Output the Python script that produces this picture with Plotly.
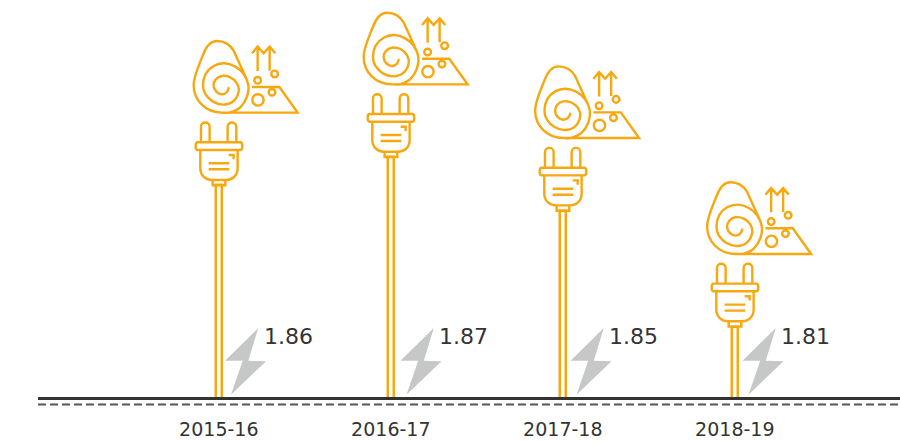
import plotly.graph_objects as go

years = ["2015-16", "2016-17", "2017-18", "2018-19"]
value_labels = ["1.86", "1.87", "1.85", "1.81"]
values = [1.86, 1.87, 1.851, 1.81]

PLOT_H = 397.5
BASE = 1.7851
TOP = BASE + PLOT_H / 2830
ORANGE = "#f7a70f"
GREY = "#c6c8c7"
DARK = "#333333"
FONT = "DejaVu Sans"
xs = list(range(len(years)))
nudge = [0, 3.5, 1.5, 1.5]
roll_nudge = [0, -2, -2.5, -2.5]


def P(p):
    return f"{(p[0] - 115.5) / 3:.2f},{(466 - p[1]) / 3:.2f}"


def path(cmds):
    out = []
    for c, pts in cmds:
        if c == "C":
            out.append("C " + " ".join(P(p) for p in pts))
        else:
            for p in pts:
                out.append(c + " " + P(p))
    return " ".join(out)


def smooth(pts):
    cmds = [("M", [pts[0]])]
    for i in range(len(pts) - 1):
        p0 = pts[max(i - 1, 0)]
        p1 = pts[i]
        p2 = pts[i + 1]
        p3 = pts[min(i + 2, len(pts) - 1)]
        c1 = (p1[0] + (p2[0] - p0[0]) / 6, p1[1] + (p2[1] - p0[1]) / 6)
        c2 = (p2[0] - (p3[0] - p1[0]) / 6, p2[1] - (p3[1] - p1[1]) / 6)
        cmds.append(("C", [c1, c2, p2]))
    return path(cmds)


def circle(cx, cy, r):
    k = r * 0.5523
    return path([
        ("M", [(cx + r, cy)]),
        ("C", [(cx + r, cy + k), (cx + k, cy + r), (cx, cy + r)]),
        ("C", [(cx - k, cy + r), (cx - r, cy + k), (cx - r, cy)]),
        ("C", [(cx - r, cy - k), (cx - k, cy - r), (cx, cy - r)]),
        ("C", [(cx + k, cy - r), (cx + r, cy - k), (cx + r, cy)]),
    ])


PLUG = path([
    ("M", [(62, 337)]), ("L", [(62, 291)]), ("C", [(62, 273), (88, 273), (88, 291)]), ("L", [(88, 337)]),
    ("M", [(142, 337)]), ("L", [(142, 291)]), ("C", [(142, 273), (168, 273), (168, 291)]), ("L", [(168, 337)]),
    ("M", [(52, 337)]), ("L", [(180, 337)]), ("C", [(188, 337), (188, 360), (180, 360)]),
    ("L", [(52, 360)]), ("C", [(44, 360), (44, 337), (52, 337)]),
    ("M", [(60, 360)]), ("L", [(60, 415)]), ("C", [(60, 438), (78, 450), (95, 450)]),
    ("L", [(137, 450)]), ("C", [(155, 450), (172, 438), (172, 415)]), ("L", [(172, 360)]),
    ("M", [(97, 450)]), ("L", [(97, 466), (135, 466), (135, 450)]),
    ("M", [(85, 400)]), ("L", [(147, 400)]),
    ("M", [(85, 418)]), ("L", [(147, 418)]),
    ("M", [(145, 375)]), ("L", [(160, 375), (160, 388)]),
])

ROLL = " ".join([
    path([
        ("M", [(215, 171)]), ("L", [(297, 171), (352, 248), (125, 248)]),
        ("C", [(75, 248), (40, 210), (40, 165)]),
        ("C", [(40, 140), (52, 115), (68, 75)]),
        ("C", [(78, 48), (90, 33), (110, 33)]),
        ("C", [(132, 33), (148, 42), (160, 62)]),
        ("L", [(200, 150)]),
    ]),
    smooth([(146, 172), (140, 186), (125, 193), (108, 185), (100, 167), (106, 149), (125, 138),
            (150, 142), (170, 160), (175, 185), (160, 213), (130, 224), (98, 215), (75, 192),
            (68, 165), (76, 132), (100, 108), (132, 100), (165, 110), (190, 132), (204, 165),
            (200, 200), (180, 232), (150, 247), (125, 248)]),
    circle(232, 151, 10), circle(283, 132, 10), circle(275, 187, 10), circle(233, 210, 17),
    path([
        ("M", [(232, 123)]), ("L", [(232, 50)]),
        ("M", [(215, 70)]), ("L", [(232, 50), (250, 70), (268, 50), (285, 70)]),
        ("M", [(268, 122)]), ("L", [(268, 50)]),
    ]),
])


def bolt_path():
    pts = [(39.5, 69), (6.2, 36.3), (23.9, 36.3), (12.2, 2.3), (47.2, 35.7), (29.5, 36.3)]
    return "M " + " L ".join(f"{x},{y}" for x, y in pts) + " Z"


fig = go.Figure()
fig.add_trace(go.Bar(
    x=xs, y=values, width=6 / 172,
    marker=dict(color="white", line=dict(color=ORANGE, width=2.5)),
    hoverinfo="skip", showlegend=False,
))

shapes = []
annotations = []
for i, v in enumerate(values):
    common = dict(type="path", xref="x", yref="y", xsizemode="pixel", ysizemode="pixel",
                  yanchor=v, layer="above")
    shapes.append(dict(common, xanchor=i, path=PLUG,
                       line=dict(color=ORANGE, width=2.4), fillcolor="rgba(0,0,0,0)"))
    shapes.append(dict(common, xanchor=i + roll_nudge[i] / 172, path=ROLL,
                       line=dict(color=ORANGE, width=2.4), fillcolor="rgba(0,0,0,0)"))
    shapes.append(dict(type="path", xref="x", yref="y", xsizemode="pixel", ysizemode="pixel",
                       xanchor=i + nudge[i] / 172, yanchor=BASE, path=bolt_path(),
                       line=dict(width=0), fillcolor=GREY, layer="above"))
    annotations.append(dict(
        x=i, y=BASE, xref="x", yref="y", text=value_labels[i], showarrow=False,
        xanchor="left", yanchor="middle", xshift=43 + nudge[i], yshift=61,
        font=dict(family=FONT, size=22, color=DARK),
    ))

shapes.append(dict(type="line", xref="paper", yref="paper", x0=0, x1=1,
                   y0=-7.5 / PLOT_H, y1=-7.5 / PLOT_H, layer="above",
                   line=dict(color="#555555", width=2, dash="8px,4px")))

fig.update_layout(
    width=900, height=445, autosize=False,
    margin=dict(l=38, r=0, t=0, b=445 - PLOT_H),
    paper_bgcolor="white", plot_bgcolor="white",
    bargap=0,
    shapes=shapes, annotations=annotations,
    xaxis=dict(range=[(38 - 218.8) / 172, (900 - 218.8) / 172], tickmode="array", tickvals=xs,
               ticktext=years, showgrid=False, zeroline=False, showline=True,
               linecolor=DARK, linewidth=3, ticks="", ticklabelstandoff=13,
               tickfont=dict(family=FONT, size=19, color=DARK)),
    yaxis=dict(range=[BASE, TOP], visible=False, showgrid=False, zeroline=False),
)

fig.write_html("out.html", config=dict(displayModeBar=False),
               post_script="document.body.style.margin='0';document.body.style.overflow='hidden';")
